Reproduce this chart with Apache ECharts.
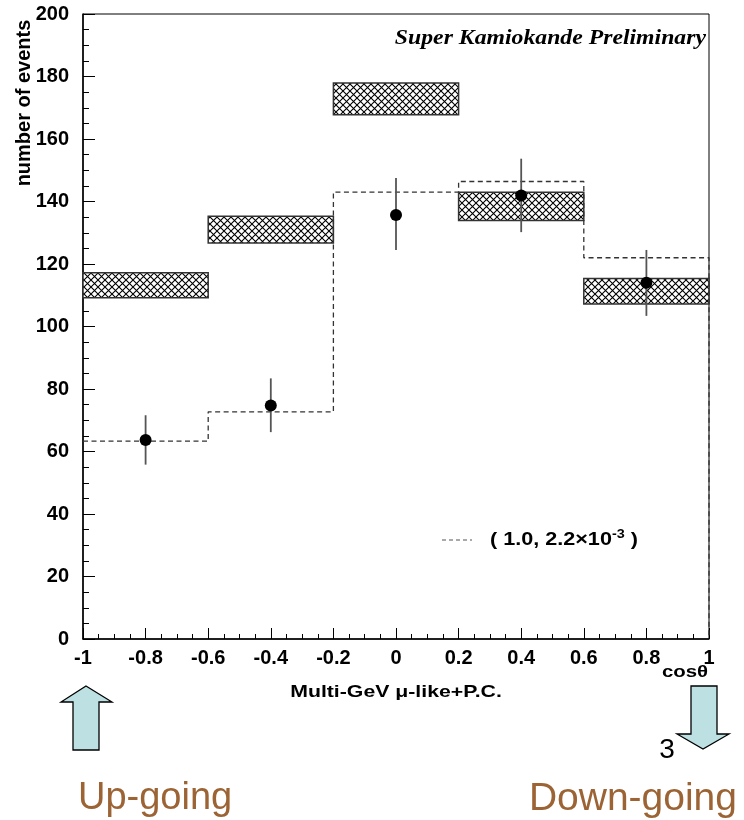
<!DOCTYPE html>
<html>
<head>
<meta charset="utf-8">
<script src="https://cdn.jsdelivr.net/npm/echarts@6/dist/echarts.min.js"></script>
<style>
  html, body { margin: 0; padding: 0; background: #fff; }
  #main { width: 744px; height: 820px; }
</style>
</head>
<body>
<div id="main"></div>
<script>
// bin edges in cos(theta)
var binEdges = [-1, -0.6, -0.2, 0.2, 0.6, 1];
// hatched boxes: no-oscillation expectation (low / high)
var boxLow  = [109.2, 126.7, 167.8, 133.9, 107.2];
var boxHigh = [117.2, 135.3, 177.9, 143.0, 115.4];
// dashed histogram: oscillation best fit (1.0, 2.2e-3)
var fitValues = [63.3, 72.7, 143.0, 146.4, 122.0];
// data points
var dataX   = [-0.8, -0.4, 0, 0.4, 0.8];
var dataY   = [63.7, 74.7, 135.7, 141.9, 114.0];
var errLow  = [55.8, 66.2, 124.5, 130.2, 103.4];
var errHigh = [71.6, 83.4, 147.5, 153.7, 124.5];

var chart = echarts.init(document.getElementById('main'));

// cross hatch tile
var pat = document.createElement('canvas');
pat.width = 7; pat.height = 7;
var c = pat.getContext('2d');
c.fillStyle = '#fff';
c.fillRect(0, 0, 7, 7);
c.strokeStyle = '#000';
c.lineWidth = 1.1;
c.beginPath();
c.moveTo(0, 0); c.lineTo(7, 7);
c.moveTo(0, 7); c.lineTo(7, 0);
c.stroke();

var boxData = [];
for (var i = 0; i < boxLow.length; i++) {
  boxData.push([binEdges[i], binEdges[i + 1], boxLow[i], boxHigh[i]]);
}
var fitData = [];
for (var i = 0; i < fitValues.length; i++) {
  fitData.push([binEdges[i], fitValues[i]]);
}
fitData.push([binEdges[binEdges.length - 1], fitValues[fitValues.length - 1]]);
fitData.push([binEdges[binEdges.length - 1], 0]);

var errData = [];
var ptData = [];
for (var i = 0; i < dataX.length; i++) {
  errData.push([dataX[i], errLow[i], errHigh[i]]);
  ptData.push([dataX[i], dataY[i]]);
}

var sans = '"Liberation Sans", Arial, sans-serif';

var option = {
  animation: false,
  backgroundColor: '#fff',
  grid: {
    left: 83, right: 35, top: 14, bottom: 181,
    show: true, borderColor: '#000', borderWidth: 1
  },
  xAxis: {
    type: 'value', min: -1, max: 1, interval: 0.2,
    axisLine: { onZero: false, lineStyle: { color: '#000', width: 1.5 } },
    axisTick: { inside: true, length: 11, lineStyle: { color: '#000' } },
    minorTick: { show: true, splitNumber: 4, length: 5, lineStyle: { color: '#000' } },
    splitLine: { show: false },
    axisLabel: {
      margin: 9, color: '#000', fontSize: 20, fontWeight: 'bold', fontFamily: sans,
      formatter: function (v) { return String(Math.round(v * 10) / 10); }
    }
  },
  yAxis: {
    type: 'value', min: 0, max: 200, interval: 20,
    axisLine: { show: true, onZero: false, lineStyle: { color: '#000', width: 1.5 } },
    axisTick: { show: true, inside: true, length: 12, lineStyle: { color: '#000' } },
    minorTick: { show: true, splitNumber: 4, length: 6, lineStyle: { color: '#000' } },
    splitLine: { show: false },
    axisLabel: { margin: 14, color: '#000', fontSize: 20, fontWeight: 'bold', fontFamily: sans }
  },
  series: [
    {
      type: 'custom',
      data: boxData,
      z: 2,
      renderItem: function (params, api) {
        var p1 = api.coord([api.value(0), api.value(3)]);
        var p2 = api.coord([api.value(1), api.value(2)]);
        return {
          type: 'rect',
          shape: { x: p1[0], y: p1[1], width: p2[0] - p1[0], height: p2[1] - p1[1] },
          style: { fill: { image: pat, repeat: 'repeat' }, stroke: '#333', lineWidth: 1.5 }
        };
      }
    },
    {
      type: 'line',
      data: fitData,
      step: 'end',
      symbol: 'none',
      z: 3,
      lineStyle: { color: '#333', width: 1.3, type: [5, 3.5] }
    },
    {
      type: 'custom',
      data: errData,
      z: 4,
      renderItem: function (params, api) {
        var a = api.coord([api.value(0), api.value(1)]);
        var b = api.coord([api.value(0), api.value(2)]);
        return {
          type: 'line',
          shape: { x1: a[0], y1: a[1], x2: b[0], y2: b[1] },
          style: { stroke: '#555', lineWidth: 1.8 }
        };
      }
    },
    {
      type: 'scatter',
      data: ptData,
      symbol: 'circle',
      symbolSize: 12,
      z: 5,
      itemStyle: { color: '#000', opacity: 1 }
    }
  ],
  graphic: [
    {
      type: 'text', x: 706, y: 39, z: 10, scaleX: 1.13,
      style: {
        text: 'Super Kamiokande Preliminary', align: 'right', verticalAlign: 'middle',
        font: 'italic bold 21px "Liberation Serif", "Times New Roman", serif', fill: '#000'
      }
    },
    {
      type: 'text', x: 24, y: 103, rotation: Math.PI / 2, z: 10,
      style: {
        text: 'number of events', align: 'center', verticalAlign: 'middle',
        font: 'bold 20px "Liberation Sans", Arial, sans-serif', fill: '#000'
      }
    },
    {
      type: 'line', z: 10,
      shape: { x1: 442, y1: 540, x2: 472, y2: 540 },
      style: { stroke: '#555', lineWidth: 1.2, lineDash: [4, 3] }
    },
    {
      type: 'text', x: 490, y: 540, z: 10, scaleX: 1.2,
      style: {
        text: '{a|( 1.0, 2.2×10}{s|-3}{a| )}',
        verticalAlign: 'middle',
        rich: {
          a: { fontSize: 18, fontWeight: 'bold', fontFamily: sans, fill: '#000' },
          s: { fontSize: 12, fontWeight: 'bold', fontFamily: sans, fill: '#000', padding: [0, 0, 10, 0] }
        }
      }
    },
    {
      type: 'text', x: 685, y: 672, z: 10, scaleX: 1.2,
      style: {
        text: 'cosθ', align: 'center', verticalAlign: 'middle',
        font: 'bold 17px "Liberation Sans", Arial, sans-serif', fill: '#000'
      }
    },
    {
      type: 'text', x: 396, y: 692, z: 10, scaleX: 1.25,
      style: {
        text: 'Multi-GeV μ-like+P.C.', align: 'center', verticalAlign: 'middle',
        font: 'bold 17px "Liberation Sans", Arial, sans-serif', fill: '#000'
      }
    },
    {
      type: 'polygon', z: 10,
      shape: { points: [[86, 686], [112, 702], [99, 702], [99, 750], [73, 750], [73, 702], [61, 702]] },
      style: { fill: '#bde0e2', stroke: '#000', lineWidth: 1.3 }
    },
    {
      type: 'polygon', z: 10,
      shape: { points: [[691, 686], [717, 686], [717, 734], [729, 734], [703, 749], [677, 734], [691, 734]] },
      style: { fill: '#bde0e2', stroke: '#000', lineWidth: 1.3 }
    },
    {
      type: 'text', x: 667, y: 750, z: 10,
      style: {
        text: '3', align: 'center', verticalAlign: 'middle',
        font: '28px "Liberation Sans", Arial, sans-serif', fill: '#000'
      }
    },
    {
      type: 'text', x: 78, y: 799, z: 10,
      style: {
        text: 'Up-going', align: 'left', verticalAlign: 'middle',
        font: '38px "Liberation Sans", Arial, sans-serif', fill: '#9c6434'
      }
    },
    {
      type: 'text', x: 737, y: 799, z: 10,
      style: {
        text: 'Down-going', align: 'right', verticalAlign: 'middle',
        font: '39px "Liberation Sans", Arial, sans-serif', fill: '#9c6434'
      }
    }
  ]
};

chart.setOption(option);
</script>
</body>
</html>
